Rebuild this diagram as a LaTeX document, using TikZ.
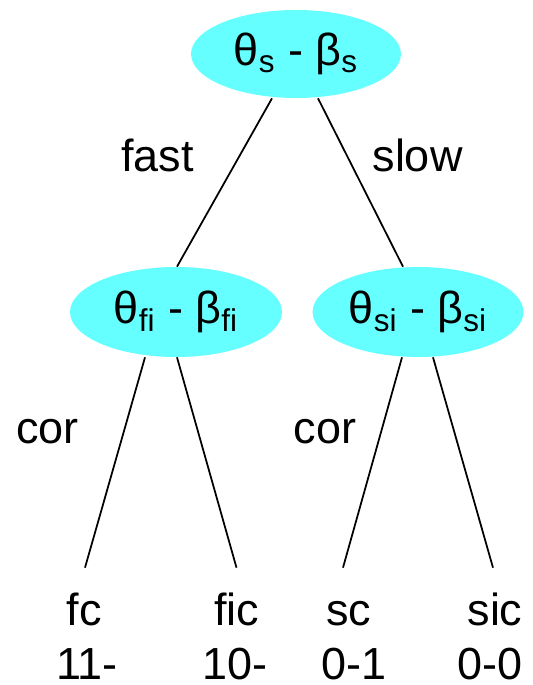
\documentclass[tikz,border=0pt]{standalone}
\usepackage{fontspec}
\setmainfont{Liberation Sans}
\usetikzlibrary{shapes.geometric,calc}
\definecolor{paramcyan}{RGB}{102,255,255}

\begin{document}
\begin{tikzpicture}[
  x=0.02cm, y=-0.02cm,
  font=\fontsize{25.6}{30}\selectfont,
  param/.style={ellipse, fill=paramcyan, inner sep=0pt, minimum height=1.8cm, minimum width=#1},
  lbl/.style={anchor=base, inner sep=0pt},
  score/.style={lbl, text depth=0pt},
  leaf/.style={anchor=base, inner xsep=0pt, inner ysep=0.48cm, text height=0.66cm, text depth=0pt},
  branch/.style={line width=1pt}
]
\useasboundingbox (0,0) rectangle (533,685);

% parameter pairs
\node[param=4.2cm, minimum height=1.76cm] (root) at (296,54) {θ\textsubscript{s} - β\textsubscript{s}};
\node[param=4.24cm] (fl) at (176,312) {θ\textsubscript{fi} - β\textsubscript{fi}};
\node[param=4.22cm] (sl) at (418,312) {θ\textsubscript{si} - β\textsubscript{si}};

% outcomes and scores
\node[leaf] (fc) at (84,625) {fc};
\node[leaf] (fic) at (236.5,625) {fic};
\node[leaf] (sc) at (348.5,625) {sc};
\node[leaf] (sic) at (495,625) {sic};
\node[score] (fcscore) at (87,679) {11-};
\node[score] (ficscore) at (235,679) {10-};
\node[score] (scscore) at (354,679) {0-1};
\node[score] (sicscore) at (490,679) {0-0};

% branch labels
\node[lbl] (fast) at (157.5,172) {fast};
\node[lbl] (slow) at (417.5,172) {slow};
\node[lbl] (fcor) at (47.5,443) {cor};
\node[lbl] (scor) at (325,443) {cor};

\draw[branch] ($(root.south)+(-24,0)$) -- ($(fl.north)+(1,0)$);
\draw[branch] ($(root.south)+(22,0)$) -- ($(sl.north)+(-15,0)$);
\draw[branch] ($(fl.south)+(-31,0)$) -- ($(fc.north)+(1,0)$);
\draw[branch] ($(fl.south)+(1,0)$) -- (fic.north);
\draw[branch] ($(sl.south)+(-16,0)$) -- ($(sc.north)+(-5.5,0)$);
\draw[branch] ($(sl.south)+(15,0)$) -- ($(sic.north)+(-2,0)$);
\end{tikzpicture}
\end{document}
